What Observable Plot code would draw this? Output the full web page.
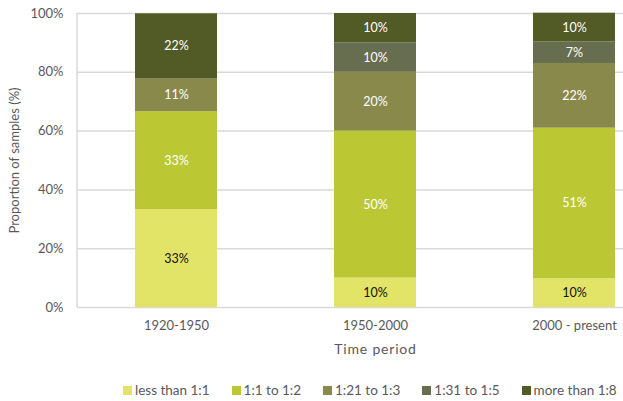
<!DOCTYPE html>
<html>
<head>
<meta charset="utf-8">
<script src="https://cdn.jsdelivr.net/npm/d3@7"></script>
<script src="https://cdn.jsdelivr.net/npm/@observablehq/plot@0.6"></script>
<style>
  html, body { margin: 0; padding: 0; background: #fff; overflow: hidden; width: 623px; height: 401px; }
  body { font-family: Lato, "Open Sans", sans-serif; color: #595959; }
  #legend { display: flex; gap: 22px; padding-left: 123px; margin-top: 11px; font-size: 13.5px; line-height: 15px; }
  #legend .item { display: flex; align-items: center; }
  #legend .sw { width: 9px; height: 9px; margin-right: 3px; }
</style>
</head>
<body>
<div id="chart"></div>
<div id="legend"></div>
<script>
const periods = ["1920-1950", "1950-2000", "2000 - present"];
const categories = ["less than 1:1", "1:1 to 1:2", "1:21 to 1:3", "1:31 to 1:5", "more than 1:8"];
const colors = ["#e1e466", "#bbc833", "#89894b", "#676d4f", "#525a26"];
// values per category, one per period (percent)
const lessThan1_1 = [33.3, 10, 9.8];
const from1_1to1_2 = [33.3, 50, 51.2];
const from1_21to1_3 = [11.1, 20, 22.0];
const from1_31to1_5 = [0, 10, 7.3];
const moreThan1_8 = [22.2, 10, 9.8];
const yTicks = [0, 20, 40, 60, 80, 100];
const xTitle = "Time period";
const yTitle = "Proportion of samples (%)";

const series = [lessThan1_1, from1_1to1_2, from1_21to1_3, from1_31to1_5, moreThan1_8];
const data = [];
categories.forEach((c, ci) => periods.forEach((p, pi) => data.push({period: p, category: c, value: series[ci][pi], ci})));

const W = 623, H = 372, ML = 77, MT = 13, MB = 65;
const axisLine = (index, scales, values, dims) => {
  const g = d3.create("svg:line")
    .attr("x1", dims.marginLeft).attr("x2", dims.marginLeft)
    .attr("y1", dims.marginTop).attr("y2", dims.height - dims.marginBottom)
    .attr("stroke", "#d9d9d9").attr("stroke-width", 1.5);
  return g.node();
};

const chart = Plot.plot({
  width: W, height: H,
  marginLeft: ML, marginTop: MT, marginBottom: MB, marginRight: 0,
  style: {fontFamily: "Lato, 'Open Sans', sans-serif", fontSize: "12.5px", color: "#595959", overflow: "hidden", background: "#fff"},
  x: {domain: periods, range: [76, 673], paddingInner: 0.59, paddingOuter: 0.295},
  y: {domain: [0, 100]},
  color: {domain: categories, range: colors},
  marks: [
    Plot.ruleY(yTicks, {stroke: "#d9d9d9", strokeWidth: 1.5}),
    axisLine,
    Plot.barY(data, Plot.stackY({x: "period", y: "value", z: "category", fill: "category"})),
    Plot.text(data, Plot.stackY({
      x: "period", y: "value", z: "category",
      text: d => d.value > 0 ? Math.round(d.value) + "%" : "",
      fill: d => d.ci === 0 ? "#111" : "#fff",
      fontSize: 12.5
    })),
    Plot.axisY({ticks: yTicks, tickSize: 0, tickPadding: 14, tickFormat: d => d + "%",
      label: yTitle, labelAnchor: "center", labelOffset: 68, labelArrow: false, fontSize: 13}),
    Plot.axisX({tickSize: 0, tickPadding: 13, label: null, fontSize: 13}),
    Plot.text([xTitle], {x: () => periods[1], text: d => d, frameAnchor: "bottom", dy: 46,
      fontSize: 14, fill: "#595959"})
  ]
});
document.getElementById("chart").appendChild(chart);
chart.querySelectorAll("text").forEach(t => { if (t.textContent === xTitle) t.style.letterSpacing = "0.8px"; });

const legend = document.getElementById("legend");
categories.forEach((c, i) => {
  const it = document.createElement("div");
  it.className = "item";
  const sw = document.createElement("span");
  sw.className = "sw";
  sw.style.background = colors[i];
  const tx = document.createElement("span");
  tx.textContent = c;
  it.appendChild(sw); it.appendChild(tx);
  legend.appendChild(it);
});
</script>
</body>
</html>
